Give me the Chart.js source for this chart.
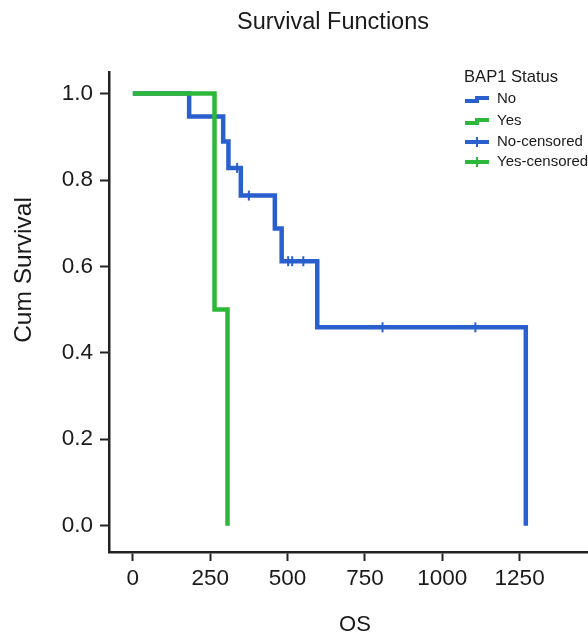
<!DOCTYPE html>
<html>
<head>
<meta charset="utf-8">
<script src="https://cdn.jsdelivr.net/npm/chart.js@4.4.1/dist/chart.umd.min.js"></script>
<style>
  html, body { margin: 0; padding: 0; background: #fff; }
  #wrap { width: 588px; height: 634px; position: relative; }
</style>
</head>
<body>
<div id="wrap"><canvas id="chart"></canvas></div>
<script>
// Datos (Kaplan-Meier)
const noTimes = [0, 182, 292, 309, 349, 459, 481, 596, 1270];
const noSurv = [1, 0.947, 0.889, 0.828, 0.764, 0.688, 0.612, 0.459, 0];
const yesTimes = [0, 264, 306];
const yesSurv = [1, 0.5, 0];
const noCensorTimes = [337, 375, 502, 515, 551, 807, 1107];
const noCensorSurv = [0.828, 0.764, 0.612, 0.612, 0.612, 0.459, 0.459];
const yesCensorTimes = [];
const yesCensorSurv = [];

const xTicks = [0, 250, 500, 750, 1000, 1250];
const yTicks = [0, 0.2, 0.4, 0.6, 0.8, 1.0];

const chartTitle = 'Survival Functions';
const xTitle = 'OS';
const yTitle = 'Cum Survival';
const legendTitle = 'BAP1 Status';
const legendLabels = ['No', 'Yes', 'No-censored', 'Yes-censored'];

const BLUE = '#2a5fce';
const GREEN = '#2eb83a';
const INK = '#1a1a1a';
const FONT = '"Liberation Sans", Arial, Helvetica, sans-serif';

function toPoints(xs, ys) {
  return xs.map((x, i) => ({ x: x, y: ys[i] }));
}

// Títulos y leyenda dibujados a mano
const decorPlugin = {
  id: 'decor',
  afterDraw(chart) {
    const ctx = chart.ctx;
    ctx.save();
    ctx.fillStyle = INK;
    ctx.textBaseline = 'middle';
    ctx.textAlign = 'center';
    ctx.font = '23.5px ' + FONT;
    ctx.fillText(chartTitle, 333, 23);
    ctx.font = '22px ' + FONT;
    ctx.fillText(xTitle, 355, 625);
    ctx.save();
    ctx.translate(24, 270);
    ctx.rotate(-Math.PI / 2);
    ctx.font = '24.5px ' + FONT;
    ctx.fillText(yTitle, 0, 0);
    ctx.restore();

    // leyenda
    ctx.textAlign = 'left';
    ctx.font = '16.6px ' + FONT;
    ctx.fillText(legendTitle, 464, 77);
    ctx.font = '15px ' + FONT;
    const colors = [BLUE, GREEN, BLUE, GREEN];
    const rows = [99, 121, 142, 162];
    legendLabels.forEach((lab, i) => {
      const y = rows[i];
      ctx.strokeStyle = colors[i];
      ctx.lineCap = 'butt';
      ctx.lineJoin = 'miter';
      if (i < 2) {
        ctx.lineWidth = 4;
        ctx.beginPath();
        ctx.moveTo(465, y + 2);
        ctx.lineTo(477, y + 2);
        ctx.lineTo(477, y - 1);
        ctx.lineTo(489, y - 1);
        ctx.stroke();
      } else {
        ctx.lineWidth = 4;
        ctx.beginPath();
        ctx.moveTo(465, y);
        ctx.lineTo(489, y);
        ctx.stroke();
        ctx.lineWidth = 2;
        ctx.beginPath();
        ctx.moveTo(477, y - 5);
        ctx.lineTo(477, y + 5);
        ctx.stroke();
      }
      ctx.fillText(lab, 497, y);
    });
    ctx.restore();
  }
};

const ctx = document.getElementById('chart').getContext('2d');
new Chart(ctx, {
  type: 'line',
  data: {
    datasets: [
      {
        label: 'Yes',
        data: toPoints(yesTimes, yesSurv),
        borderColor: GREEN,
        borderWidth: 4.5,
        stepped: 'before',
        pointRadius: 0,
        fill: false,
        borderCapStyle: 'butt',
        borderJoinStyle: 'miter',
        order: 1
      },
      {
        label: 'No',
        data: toPoints(noTimes, noSurv),
        borderColor: BLUE,
        borderWidth: 4.5,
        stepped: 'before',
        pointRadius: 0,
        fill: false,
        borderCapStyle: 'butt',
        borderJoinStyle: 'miter',
        order: 3
      },
      {
        label: 'No-censored',
        data: toPoints(noCensorTimes, noCensorSurv),
        showLine: false,
        pointStyle: 'line',
        rotation: 90,
        pointRadius: 5,
        pointBorderWidth: 2,
        pointBorderColor: BLUE,
        borderColor: BLUE,
        order: 2
      },
      {
        label: 'Yes-censored',
        data: toPoints(yesCensorTimes, yesCensorSurv),
        showLine: false,
        pointStyle: 'line',
        rotation: 90,
        pointRadius: 5,
        pointBorderWidth: 2,
        pointBorderColor: GREEN,
        borderColor: GREEN,
        order: 0
      }
    ]
  },
  options: {
    responsive: true,
    maintainAspectRatio: false,
    animation: false,
    // sin autoPadding para que el eje x llegue al borde derecho
    layout: { autoPadding: false, padding: { top: 72, right: 0, bottom: 0, left: 0 } },
    plugins: {
      legend: { display: false },
      title: { display: false },
      tooltip: { enabled: false }
    },
    scales: {
      x: {
        type: 'linear',
        min: -77,
        max: 1471,
        afterBuildTicks: (scale) => { scale.ticks = xTicks.map(v => ({ value: v })); },
        afterFit: (scale) => {
          scale.height = 82;
          scale.paddingLeft = 0;
          scale.paddingRight = 0;
        },
        border: { display: true, color: '#222', width: 2.5 },
        grid: { drawOnChartArea: false, drawTicks: true, tickLength: 9, tickColor: '#222', tickWidth: 2 },
        ticks: {
          color: INK,
          padding: 4,
          maxRotation: 0,
          font: { family: FONT, size: 22.5 },
          callback: (v) => String(v)
        }
      },
      y: {
        type: 'linear',
        min: -0.061,
        max: 1.05,
        afterBuildTicks: (scale) => { scale.ticks = yTicks.map(v => ({ value: v })); },
        afterFit: (scale) => { scale.width = 109; },
        border: { display: true, color: '#222', width: 2.5 },
        grid: { drawOnChartArea: false, drawTicks: true, tickLength: 9, tickColor: '#222', tickWidth: 2 },
        ticks: {
          color: INK,
          padding: 7,
          font: { family: FONT, size: 22.5 },
          callback: (v) => Number(v).toFixed(1)
        }
      }
    }
  },
  plugins: [decorPlugin]
});
</script>
</body>
</html>
